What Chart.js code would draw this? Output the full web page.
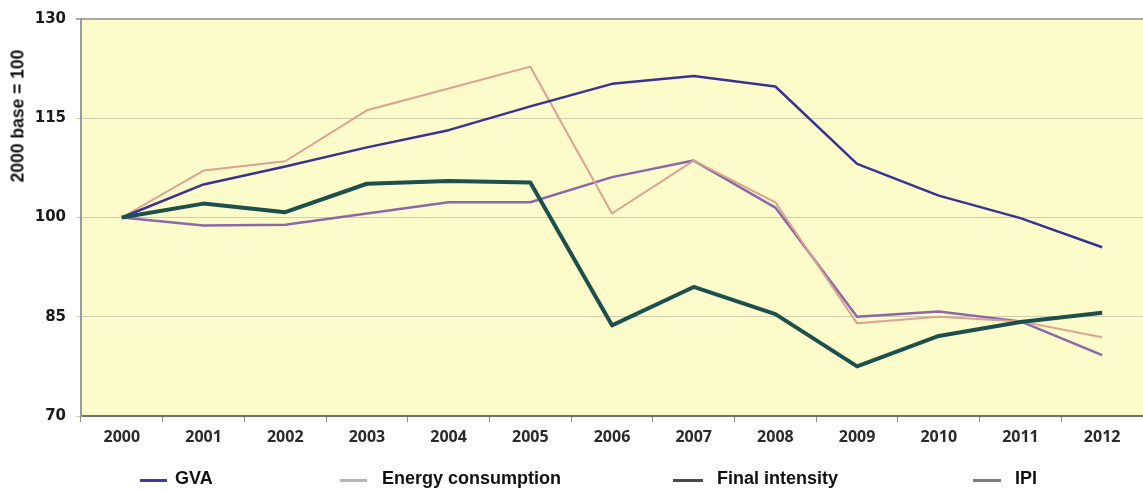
<!DOCTYPE html>
<html>
<head>
<meta charset="utf-8">
<script src="https://cdn.jsdelivr.net/npm/chart.js@4.4.1/dist/chart.umd.min.js"></script>
<style>
  html, body { margin: 0; padding: 0; background: #fff; }
  #wrap { position: relative; width: 1143px; height: 490px; }
  #legend { position: absolute; left: 0; top: 468px; width: 1143px; height: 22px;
    font-family: "Liberation Sans", Arial, sans-serif; font-weight: bold; font-size: 18px; color: #111; }
  .mark { position: absolute; top: 11px; height: 3px; }
  .txt { position: absolute; top: 0; white-space: nowrap; }
  #ytitle { position: absolute; left: 18px; top: 116px; transform: translate(-50%, -50%) rotate(-90deg);
    font-family: "Liberation Sans", Arial, sans-serif; font-weight: bold; font-size: 17.5px;
    color: #111; white-space: nowrap; }
</style>
</head>
<body>
<div id="wrap">
  <canvas id="energyChart" width="1143" height="490"></canvas>
  <div id="ytitle">2000 base = 100</div>
  <div id="legend"></div>
</div>
<script>
const years = ['2000', '2001', '2002', '2003', '2004', '2005', '2006', '2007', '2008', '2009', '2010', '2011', '2012'];
const gva = [100, 105, 107.7, 110.6, 113.2, 116.8, 120.2, 121.4, 119.8, 108.1, 103.3, 99.9, 95.5];
const energyConsumption = [100, 107.1, 108.5, 116.2, 119.5, 122.8, 100.6, 108.6, 102.3, 84, 85, 84.3, 81.9];
const finalIntensity = [100, 102.1, 100.8, 105.1, 105.5, 105.3, 83.7, 89.5, 85.4, 77.5, 82.1, 84.2, 85.6];
const ipi = [100, 98.8, 98.9, 100.6, 102.3, 102.3, 106.1, 108.6, 101.5, 85, 85.8, 84.3, 79.2];
const yTicks = [70, 85, 100, 115, 130];

// legend: line sample colour, marker x, text x
const legendItems = [
  { text: 'GVA', color: '#3d3aa8', x: 140, w: 27, tx: 175 },
  { text: 'Energy consumption', color: '#bdb3b3', x: 340, w: 27, tx: 382 },
  { text: 'Final intensity', color: '#4a4a4a', x: 673, w: 30, tx: 717 },
  { text: 'IPI', color: '#7d7d7d', x: 973, w: 28, tx: 1015 }
];

const legendEl = document.getElementById('legend');
legendItems.forEach(it => {
  const m = document.createElement('div');
  m.className = 'mark';
  m.style.left = it.x + 'px';
  m.style.width = it.w + 'px';
  m.style.background = it.color;
  legendEl.appendChild(m);
  const t = document.createElement('div');
  t.className = 'txt';
  t.style.left = it.tx + 'px';
  t.textContent = it.text;
  legendEl.appendChild(t);
});

const plotBg = {
  id: 'plotBg',
  beforeDraw(chart) {
    const { ctx, chartArea: a } = chart;
    ctx.save();
    ctx.fillStyle = '#fcfbc9';
    ctx.fillRect(a.left, a.top, a.right - a.left, a.bottom - a.top);
    ctx.restore();
  }
};

const ctx = document.getElementById('energyChart').getContext('2d');

const chartData = {
  labels: years,
  datasets: [
    { label: 'IPI', data: ipi, borderColor: '#8a69aa', borderWidth: 2.5, order: 4 },
    { label: 'Energy consumption', data: energyConsumption, borderColor: '#d9a392', borderWidth: 2, order: 3 },
    { label: 'GVA', data: gva, borderColor: '#3a3196', borderWidth: 2.5, order: 2 },
    { label: 'Final intensity', data: finalIntensity, borderColor: '#1d4f4c', borderWidth: 4, order: 1 }
  ]
};

const config = {
  type: 'line',
  data: chartData,
  options: {
    responsive: false,
    animation: false,
    layout: { padding: { top: 16, right: 0, bottom: 0, left: 0 } },
    elements: {
      point: { radius: 0 },
      line: { tension: 0, borderJoinStyle: 'round', fill: false }
    },
    plugins: {
      legend: { display: false },
      tooltip: { enabled: false },
      title: { display: false }
    },
    scales: {
      x: {
        offset: true,
        afterFit(scale) { scale.height = 74; },
        grid: {
          offset: true,
          drawOnChartArea: false,
          drawTicks: true,
          tickLength: 6,
          color: '#8a8a8a'
        },
        border: { color: '#6f6f6f', width: 2 },
        ticks: {
          padding: 6,
          color: '#2a2a2a',
          font: { family: '"Open Sans", sans-serif', weight: 'bold', size: 16 }
        }
      },
      y: {
        min: 70,
        max: 130,
        afterFit(scale) { scale.width = 81; },
        afterBuildTicks(scale) { scale.ticks = yTicks.map(v => ({ value: v })); },
        grid: {
          drawTicks: true,
          tickLength: 5,
          color: ctx => (ctx.tick && ctx.tick.value === 130) ? '#a9a9a9' : '#cfcdb0',
          lineWidth: ctx => (ctx.tick && ctx.tick.value === 130) ? 2 : 1
        },
        border: { color: '#9a9a9a', width: 2 },
        ticks: {
          padding: 10,
          color: '#1a1a1a',
          font: { family: '"DejaVu Sans", sans-serif', weight: 'bold', size: 15 }
        }
      }
    }
  },
  plugins: [plotBg]
};

const energyChart = new Chart(ctx, config);
</script>
</body>
</html>
